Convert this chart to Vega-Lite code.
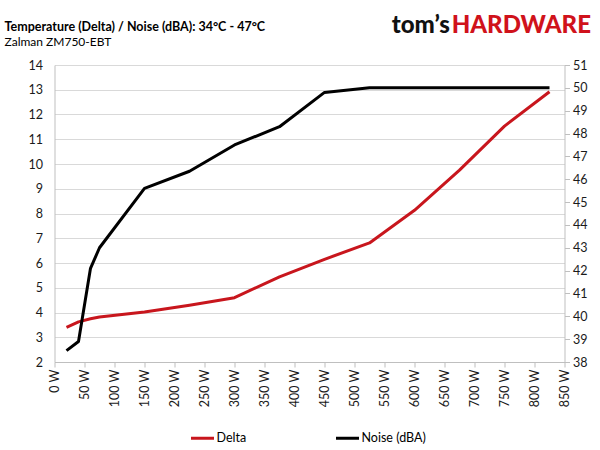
{
  "$schema": "https://vega.github.io/schema/vega-lite/v6.json",
  "width": 510,
  "height": 297,
  "autosize": {"type": "none"},
  "padding": {"left": 54.5, "top": 65, "right": 35.5, "bottom": 88},
  "background": "white",
  "title": {
    "text": "Temperature (Delta) / Noise (dBA): 34°C - 47°C",
    "subtitle": "Zalman ZM750-EBT",
    "anchor": "start",
    "frame": "group",
    "dx": -50,
    "offset": -34,
    "font": "Lato",
    "fontSize": 12.5,
    "fontWeight": "bold",
    "color": "#000000",
    "subtitleFont": "Lato",
    "subtitleFontSize": 12,
    "subtitleColor": "#000000",
    "subtitlePadding": 3
  },
  "data": {
    "values": [
      {"watts": 20, "delta": 3.4, "noise": 38.5},
      {"watts": 40, "delta": 3.62, "noise": 38.9},
      {"watts": 60, "delta": 3.75, "noise": 42.1},
      {"watts": 75, "delta": 3.82, "noise": 43.0},
      {"watts": 150, "delta": 4.02, "noise": 45.6},
      {"watts": 225, "delta": 4.29, "noise": 46.35},
      {"watts": 300, "delta": 4.6, "noise": 47.5},
      {"watts": 375, "delta": 5.44, "noise": 48.3},
      {"watts": 450, "delta": 6.15, "noise": 49.8},
      {"watts": 525, "delta": 6.81, "noise": 50.0},
      {"watts": 600, "delta": 8.13, "noise": 50.0},
      {"watts": 675, "delta": 9.75, "noise": 50.0},
      {"watts": 750, "delta": 11.53, "noise": 50.0},
      {"watts": 825, "delta": 12.92, "noise": 50.0}
    ]
  },
  "layer": [
    {
      "layer": [
        {
          "mark": {"type": "line", "strokeWidth": 3, "strokeJoin": "round"},
          "encoding": {
            "x": {
              "field": "watts",
              "type": "quantitative",
              "scale": {"domain": [0, 850], "nice": false},
              "axis": {
                "title": null,
                "values": [0, 50, 100, 150, 200, 250, 300, 350, 400, 450, 500, 550, 600, 650, 700, 750, 800, 850],
                "labelExpr": "datum.value + ' W'",
                "labelAngle": 270,
                "labelAlign": "right",
                "labelBaseline": "middle",
                "labelOverlap": false,
                "tickSize": 5,
                "labelPadding": 2,
                "grid": false
              }
            },
            "y": {
              "field": "delta",
              "type": "quantitative",
              "scale": {"domain": [2, 14], "nice": false, "zero": false},
              "axis": {
                "title": null,
                "orient": "left",
                "values": [2, 3, 4, 5, 6, 7, 8, 9, 10, 11, 12, 13, 14],
                "labelOverlap": false,
                "ticks": false,
                "labelPadding": 12,
                "grid": true
              }
            },
            "color": {
              "datum": "Delta",
              "scale": {"domain": ["Delta", "Noise (dBA)"], "range": ["#c8161d", "#000000"]},
              "legend": {
                "title": null,
                "orient": "none",
                "legendX": 135,
                "legendY": 360,
                "direction": "horizontal",
                "symbolType": "stroke",
                "symbolSize": 529,
                "symbolStrokeWidth": 3,
                "columnPadding": 83,
                "labelOffset": 1,
                "labelFont": "Lato",
                "labelFontSize": 12.5,
                "labelColor": "#000000"
              }
            }
          }
        },
        {
          "data": {"values": [{"t": "tom’s"}]},
          "mark": {"type": "text", "align": "right", "baseline": "alphabetic", "font": "Lato", "fontSize": 24, "fontWeight": 900, "color": "#111111"},
          "encoding": {
            "text": {"field": "t"},
            "x": {
              "datum": 659,
              "type": "quantitative",
              "scale": {"domain": [0, 850], "nice": false},
              "axis": {
                "title": null,
                "values": [0, 50, 100, 150, 200, 250, 300, 350, 400, 450, 500, 550, 600, 650, 700, 750, 800, 850],
                "labelExpr": "datum.value + ' W'",
                "labelAngle": 270,
                "labelAlign": "right",
                "labelBaseline": "middle",
                "labelOverlap": false,
                "tickSize": 5,
                "labelPadding": 2,
                "grid": false
              }
            },
            "y": {
              "datum": 15.31,
              "type": "quantitative",
              "scale": {"domain": [2, 14], "nice": false, "zero": false},
              "axis": {
                "title": null,
                "orient": "left",
                "values": [2, 3, 4, 5, 6, 7, 8, 9, 10, 11, 12, 13, 14],
                "labelOverlap": false,
                "ticks": false,
                "labelPadding": 12,
                "grid": true
              }
            }
          }
        },
        {
          "data": {"values": [{"t": "HARDWARE"}]},
          "mark": {"type": "text", "align": "left", "baseline": "alphabetic", "font": "Lato", "fontSize": 24, "fontWeight": 900, "color": "#d0121b"},
          "encoding": {
            "text": {"field": "t"},
            "x": {
              "datum": 662,
              "type": "quantitative",
              "scale": {"domain": [0, 850], "nice": false},
              "axis": {
                "title": null,
                "values": [0, 50, 100, 150, 200, 250, 300, 350, 400, 450, 500, 550, 600, 650, 700, 750, 800, 850],
                "labelExpr": "datum.value + ' W'",
                "labelAngle": 270,
                "labelAlign": "right",
                "labelBaseline": "middle",
                "labelOverlap": false,
                "tickSize": 5,
                "labelPadding": 2,
                "grid": false
              }
            },
            "y": {
              "datum": 15.31,
              "type": "quantitative",
              "scale": {"domain": [2, 14], "nice": false, "zero": false},
              "axis": {
                "title": null,
                "orient": "left",
                "values": [2, 3, 4, 5, 6, 7, 8, 9, 10, 11, 12, 13, 14],
                "labelOverlap": false,
                "ticks": false,
                "labelPadding": 12,
                "grid": true
              }
            }
          }
        }
      ]
    },
    {
      "mark": {"type": "line", "strokeWidth": 3, "strokeJoin": "round"},
      "encoding": {
        "x": {
          "field": "watts",
          "type": "quantitative",
          "scale": {"domain": [0, 850], "nice": false},
          "axis": {
            "title": null,
            "values": [0, 50, 100, 150, 200, 250, 300, 350, 400, 450, 500, 550, 600, 650, 700, 750, 800, 850],
            "labelExpr": "datum.value + ' W'",
            "labelAngle": 270,
            "labelAlign": "right",
            "labelBaseline": "middle",
            "labelOverlap": false,
            "tickSize": 5,
            "labelPadding": 2,
            "grid": false
          }
        },
        "y": {
          "field": "noise",
          "type": "quantitative",
          "scale": {"domain": [38, 51], "nice": false, "zero": false},
          "axis": {
            "title": null,
            "orient": "right",
            "values": [38, 39, 40, 41, 42, 43, 44, 45, 46, 47, 48, 49, 50, 51],
            "labelOverlap": false,
            "tickSize": 5,
            "labelPadding": 3,
            "grid": false
          }
        },
        "color": {"datum": "Noise (dBA)"}
      }
    }
  ],
  "resolve": {"scale": {"y": "independent"}},
  "config": {
    "view": {"stroke": null},
    "axis": {
      "labelFont": "Lato",
      "labelFontSize": 12.5,
      "labelColor": "#1a1a1a",
      "domainColor": "#bfbfbf",
      "tickColor": "#bfbfbf",
      "gridColor": "#d9d9d9"
    }
  }
}
